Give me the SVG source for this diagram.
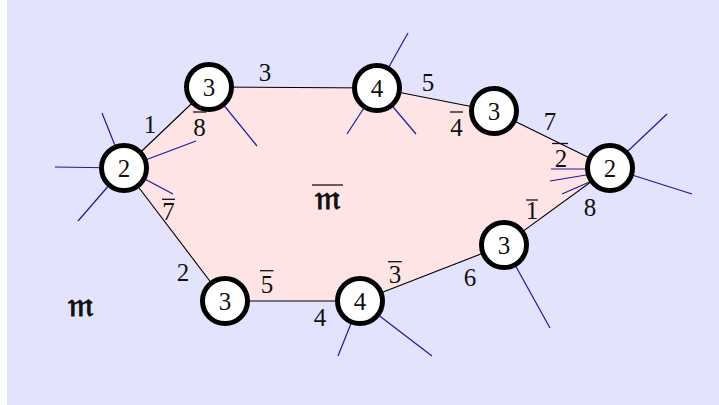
<svg xmlns="http://www.w3.org/2000/svg" width="719" height="405" viewBox="0 0 719 405">
  <style>
    .edge { stroke: #000; stroke-width: 1.1; fill: none; }
    .stub { stroke: #1a1aa0; stroke-width: 1.2; fill: none; }
    .node circle { fill: #fff; stroke: #000; stroke-width: 5; }
    .bar { stroke: #111; stroke-width: 1.3; }
  </style>
  <rect x="7" y="0" width="712" height="405" fill="#e3e3fd"/>
  <polygon points="124,168 209,87 377,88 494,111 610,168 504,245 360,301 225,301" fill="#fee4e4"/>

  <g id="stubs">
    <line class="stub" x1="124" y1="168" x2="102" y2="113"/>
    <line class="stub" x1="124" y1="168" x2="55" y2="167"/>
    <line class="stub" x1="124" y1="168" x2="78" y2="221"/>
    <line class="stub" x1="124" y1="168" x2="196" y2="141"/>
    <line class="stub" x1="124" y1="168" x2="173" y2="194"/>
    <line class="stub" x1="209" y1="87" x2="257" y2="146"/>
    <line class="stub" x1="377" y1="88" x2="408" y2="33"/>
    <line class="stub" x1="377" y1="88" x2="347" y2="134"/>
    <line class="stub" x1="377" y1="88" x2="416" y2="134"/>
    <line class="stub" x1="610" y1="168" x2="667" y2="114"/>
    <line class="stub" x1="610" y1="168" x2="692" y2="194"/>
    <line class="stub" x1="610" y1="169" x2="551" y2="169"/>
    <line class="stub" x1="610" y1="171" x2="550" y2="181"/>
    <line class="stub" x1="610" y1="173" x2="562" y2="194"/>
    <line class="stub" x1="504" y1="245" x2="550" y2="328"/>
    <line class="stub" x1="360" y1="301" x2="338" y2="356"/>
    <line class="stub" x1="360" y1="301" x2="432" y2="356"/>
  </g>

  <g id="connectors">
    <line class="edge" x1="124" y1="168" x2="209" y2="87"/>
    <line class="edge" x1="209" y1="87" x2="377" y2="88"/>
    <line class="edge" x1="377" y1="88" x2="494" y2="111"/>
    <line class="edge" x1="494" y1="111" x2="610" y2="168"/>
    <line class="edge" x1="610" y1="168" x2="504" y2="245"/>
    <line class="edge" x1="504" y1="245" x2="360" y2="301"/>
    <line class="edge" x1="360" y1="301" x2="225" y2="301"/>
    <line class="edge" x1="225" y1="301" x2="124" y2="168"/>
  </g>

  <g font-family="Liberation Serif, serif" font-size="25" fill="#111" text-anchor="middle">
    <g id="nA" class="node"><circle cx="124" cy="168" r="22.5"/><text x="124" y="176.5">2</text></g>
    <g id="nB" class="node"><circle cx="209" cy="87" r="22.5"/><text x="209" y="95.5">3</text></g>
    <g id="nC" class="node"><circle cx="377" cy="88" r="22.5"/><text x="377" y="96.5">4</text></g>
    <g id="nD" class="node"><circle cx="494" cy="111" r="22.5"/><text x="494" y="119.5">3</text></g>
    <g id="nE" class="node"><circle cx="610" cy="168" r="22.5"/><text x="610" y="176.5">2</text></g>
    <g id="nF" class="node"><circle cx="504" cy="245" r="22.5"/><text x="504" y="253.5">3</text></g>
    <g id="nG" class="node"><circle cx="360" cy="301" r="22.5"/><text x="360" y="309.5">4</text></g>
    <g id="nH" class="node"><circle cx="225" cy="301" r="22.5"/><text x="225" y="309.5">3</text></g>

    <g id="labels">
      <text x="150" y="133">1</text>
      <text x="199.5" y="136">8</text><line class="bar" x1="193" y1="112" x2="206.5" y2="112"/>
      <text x="265" y="81">3</text>
      <text x="428" y="91">5</text>
      <text x="456.5" y="136">4</text><line class="bar" x1="450" y1="112" x2="463" y2="112"/>
      <text x="550" y="130">7</text>
      <text x="561" y="166.5">2</text><line class="bar" x1="552" y1="143.5" x2="568" y2="143.5"/>
      <text x="590" y="216">8</text>
      <text x="532" y="219">1</text><line class="bar" x1="526" y1="200" x2="538" y2="200"/>
      <text x="470" y="286">6</text>
      <text x="395" y="283">3</text><line class="bar" x1="388" y1="261.7" x2="401.7" y2="261.7"/>
      <text x="320" y="326">4</text>
      <text x="267" y="293">5</text><line class="bar" x1="260" y1="270.7" x2="273.5" y2="270.7"/>
      <text x="183" y="281">2</text>
      <text x="168.5" y="220">7</text><line class="bar" x1="162" y1="199.3" x2="175" y2="199.3"/>
    </g>
  </g>
  <g id="regions" font-family="DejaVu Serif, DejaVu Sans, serif" font-size="34" font-weight="bold" fill="#111" text-anchor="middle">
    <text x="81" y="316">𝔪</text>
    <text x="328" y="209">𝔪</text><line class="bar" x1="312" y1="185" x2="343" y2="185"/>
  </g>
</svg>
